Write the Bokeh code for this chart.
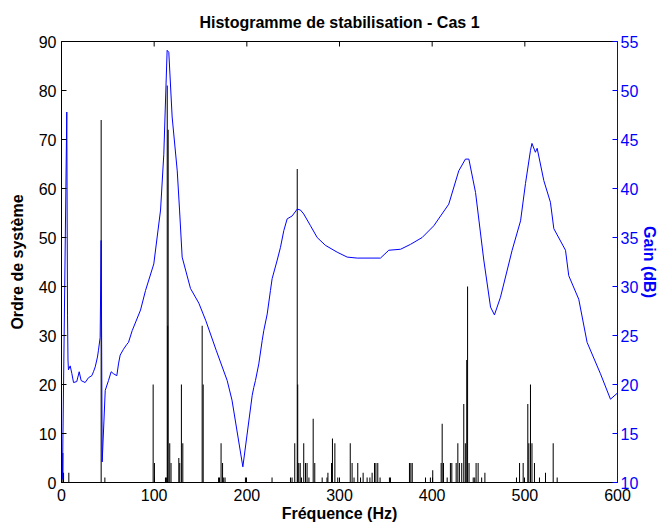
from bokeh.plotting import figure
from bokeh.models import Range1d, LinearAxis, FixedTicker
from bokeh.embed import file_html
from bokeh.resources import INLINE

# Stabilisation histogram: frequency (Hz) and system-order count
bar_freq = [1.5, 2.2, 7.9, 42.8, 46.8, 98.9, 100.3, 112.2, 113.2, 114.1, 114.6, 115.1,
            116.8, 118.2, 126.6, 127.6, 129.4, 130.9, 151.8, 152.9, 169.5, 170.5, 172.2,
            173.8, 175.0, 176.5, 198.5, 227.2, 247.1, 248.8, 251.7, 254.4, 254.9, 256.0,
            257.6, 259.0, 261.4, 263.3, 265.0, 267.0, 271.6, 273.3, 281.3, 286.5, 287.5,
            291.4, 292.4, 295.0, 298.1, 311.6, 313.6, 315.7, 319.7, 322.7, 325.5, 329.8,
            332.8, 335.2, 337.8, 339.3, 341.3, 343.8, 353.9, 355.0, 375.5, 377.0, 378.5,
            392.8, 398.1, 400.6, 409.7, 410.8, 412.2, 416.2, 419.7, 421.2, 425.9, 427.7,
            429.4, 431.9, 434.1, 435.8, 437.3, 438.2, 439.8, 444.3, 445.9, 447.4, 449.6,
            453.4, 456.9, 491.0, 494.3, 498.2, 503.2, 504.3, 506.1, 507.7, 510.4, 515.8,
            522.3, 530.6, 534.9]
bar_order = [6, 2, 2, 74, 1, 20, 4, 1, 1, 81, 32, 72,
             8, 4, 5, 4, 20, 8, 32, 20, 1, 1, 8,
             4, 1, 1, 1, 1, 1, 1, 8, 64, 20, 4,
             4, 1, 8, 4, 4, 1, 13, 4, 1, 1, 2,
             4, 9, 8, 1, 8, 4, 1, 4, 1, 2, 1,
             1, 2, 4, 4, 4, 1, 1, 1, 4, 4, 4,
             1, 1, 2.5, 4, 12, 4, 1, 4, 4, 4, 8,
             4, 4, 16, 8, 25, 40, 4, 1, 1, 4, 4,
             1, 2, 1, 4, 4, 16, 8, 20, 8, 4, 1,
             2, 8, 1]

# Gain curve (dB) against frequency (Hz)
gain_freq = [1.0, 5.7, 6.5, 7.0, 7.5, 9.4, 11.2, 13.0, 16.5, 19.1, 21.2, 25.5, 29.2, 32.7,
             34.5, 36.4, 38.8, 39.9, 41.7, 42.8, 43.9, 47.2, 50.7, 53.6, 56.1, 59.7, 61.5,
             63.3, 66.9, 70.5, 72.3, 76.3, 85.3, 90.7, 99.6, 106.9, 110.4, 114.0, 115.8,
             119.4, 124.9, 127.4, 130.2, 139.2, 148.2, 155.8, 166.9, 178.8, 184.0, 195.7,
             205.8, 207.5, 209.3, 212.9, 216.6, 218.3, 222.0, 225.5, 227.3, 232.8, 236.3,
             239.9, 243.5, 248.9, 254.4, 257.9, 261.4, 268.7, 275.9, 284.8, 297.5, 308.3,
             319.1, 344.2, 353.2, 365.9, 376.6, 389.2, 401.8, 417.9, 428.7, 435.9, 439.6,
             446.8, 455.7, 463.0, 467.2, 473.7, 486.3, 495.4, 500.7, 506.1, 507.7, 511.4,
             513.3, 520.5, 527.6, 531.3, 543.9, 547.4, 558.2, 567.2, 581.6, 592.4, 599.6]
gain_db = [10.3, 47.8, 27.0, 22.5, 21.5, 21.9, 21.1, 20.2, 20.3, 21.3, 20.4, 20.2, 20.7, 20.9,
           21.3, 21.8, 22.8, 23.5, 24.8, 34.7, 12.1, 19.4, 20.4, 21.3, 21.1, 20.9, 22.1,
           23.0, 23.6, 24.1, 24.3, 25.5, 27.6, 29.6, 32.3, 37.8, 43.5, 54.1, 53.9,
           47.3, 41.8, 37.8, 33.0, 29.8, 28.3, 26.5, 23.5, 20.4, 18.4, 11.6,
           18.9, 19.7, 20.4, 22.1, 24.5, 25.5, 27.2, 29.6, 30.8, 32.7, 34.0,
           35.7, 36.9, 37.2, 37.9, 37.8, 37.4, 36.2, 35.0, 34.2, 33.5, 33.0,
           32.9, 32.9, 33.7, 33.8, 34.3, 35.0, 36.2, 38.4, 41.8, 43.0, 43.0,
           39.6, 32.7, 27.9, 27.1, 28.9, 33.7, 36.7, 40.5, 43.9, 44.6, 43.7,
           44.1, 40.8, 38.6, 35.9, 33.7, 31.1, 28.7, 24.3, 21.1, 18.5, 19.1]

x_ticks = [0, 100, 200, 300, 400, 500, 600]
left_ticks = [0, 10, 20, 30, 40, 50, 60, 70, 80, 90]
right_ticks = [10, 15, 20, 25, 30, 35, 40, 45, 50, 55]

FONT = "Liberation Sans"
BLUE = "#0000ff"

p = figure(frame_width=556, frame_height=441, x_range=Range1d(0, 600), y_range=Range1d(0, 90),
           output_backend="svg", toolbar_location=None,
           min_border_left=61, min_border_right=42, min_border_top=41, min_border_bottom=45,
           title="Histogramme de stabilisation - Cas 1")
p.extra_y_ranges = {"gain": Range1d(10, 55)}

p.title.align = "center"
p.title.text_font = FONT
p.title.text_font_size = "16px"
p.title.text_font_style = "bold"
p.title.text_color = "black"
p.title.standoff = 21

p.grid.visible = False
p.outline_line_color = "black"
p.outline_line_width = 1
p.background_fill_color = "white"
p.border_fill_color = "white"

def style_axis(ax, color="black"):
    ax.major_tick_in = 5
    ax.major_tick_out = 0
    ax.minor_tick_line_color = None
    ax.axis_line_color = color
    ax.major_tick_line_color = color
    ax.major_label_text_color = color
    ax.major_label_text_font = FONT
    ax.major_label_text_font_size = "16px"
    ax.axis_label_text_font = FONT
    ax.axis_label_text_font_size = "16px"
    ax.axis_label_text_font_style = "bold"
    ax.axis_label_text_color = color

xa = p.xaxis[0]
style_axis(xa)
xa.ticker = FixedTicker(ticks=x_ticks)
xa.axis_label = "Fréquence (Hz)"
xa.major_label_standoff = 6
xa.axis_label_standoff = 1

ya = p.yaxis[0]
style_axis(ya)
ya.ticker = FixedTicker(ticks=left_ticks)
ya.axis_label = "Ordre de système"
ya.major_label_standoff = 5
ya.axis_label_standoff = 10

ra = LinearAxis(y_range_name="gain", ticker=FixedTicker(ticks=right_ticks),
                axis_label="Gain (dB)")
style_axis(ra, BLUE)
ra.major_label_standoff = 3
ra.axis_label_standoff = 0
p.add_layout(ra, "right")

# inward tick marks along the top edge of the box (MATLAB style)
top_ticks = x_ticks[1:-1]
y_top = p.y_range.end
tick_len = (p.y_range.end - p.y_range.start) * 5 / 441
p.segment(x0=top_ticks, y0=[y_top] * len(top_ticks), x1=top_ticks,
          y1=[y_top - tick_len] * len(top_ticks), line_color="black", line_width=1)

p.vbar(x=bar_freq, top=bar_order, bottom=0, width=1.1, fill_color="black", line_color=None)
p.line(x=gain_freq, y=gain_db, y_range_name="gain", line_color=BLUE, line_width=1)

open("out.html", "w").write(file_html(p, INLINE))
